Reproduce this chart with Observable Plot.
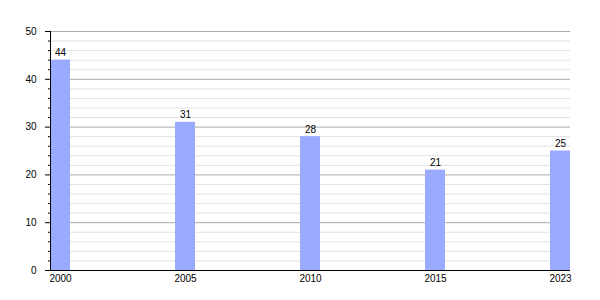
<!DOCTYPE html>
<html>
<head>
<meta charset="utf-8">
<script src="https://cdn.jsdelivr.net/npm/d3@7"></script>
<script src="https://cdn.jsdelivr.net/npm/@observablehq/plot@0.6"></script>
<style>
html,body{margin:0;padding:0;background:#fff;}
</style>
</head>
<body>
<div id="chart"></div>
<script>
const years = ["2000", "2005", "2010", "2015", "2023"];
const values = [44, 31, 28, 21, 25];
const majorTicks = [0, 10, 20, 30, 40, 50];
const minorTicks = d3.range(0, 51, 2).filter(v => v % 10 !== 0);

const data = years.map((year, i) => ({year, value: values[i]}));

const plot = Plot.plot({
  width: 600,
  height: 300,
  marginLeft: 50,
  marginRight: 30,
  marginTop: 31,
  marginBottom: 30,
  style: {fontFamily: "Liberation Sans, Arial, sans-serif", fontSize: "10px", background: "#fff", color: "#000"},
  x: {domain: years, paddingInner: 0.84, paddingOuter: 0, label: null},
  y: {domain: [0, 50], label: null},
  marks: [
    Plot.ruleY(minorTicks, {stroke: "#e2e2e2", strokeOpacity: 1}),
    Plot.ruleY(majorTicks.filter(v => v > 0), {stroke: "#aaaaaa", strokeOpacity: 1}),
    Plot.barY(data, {x: "year", y: "value", fill: "#99aaff"}),
    Plot.text(data, {x: "year", y: "value", text: d => String(d.value), lineAnchor: "bottom", dy: -4, fill: "#000"}),
    Plot.axisY(minorTicks, {tickSize: 2, text: null, stroke: "#000"}),
    Plot.axisY(majorTicks, {tickSize: 5, tickPadding: 9, stroke: "#000", fill: "#000"}),
    Plot.axisX({tickSize: 0, tickPadding: 4, fill: "#000"}),
    Plot.ruleY([0], {stroke: "#000"}),
    Plot.frame({anchor: "left", stroke: "#000"})
  ]
});
document.getElementById("chart").appendChild(plot);
</script>
</body>
</html>
